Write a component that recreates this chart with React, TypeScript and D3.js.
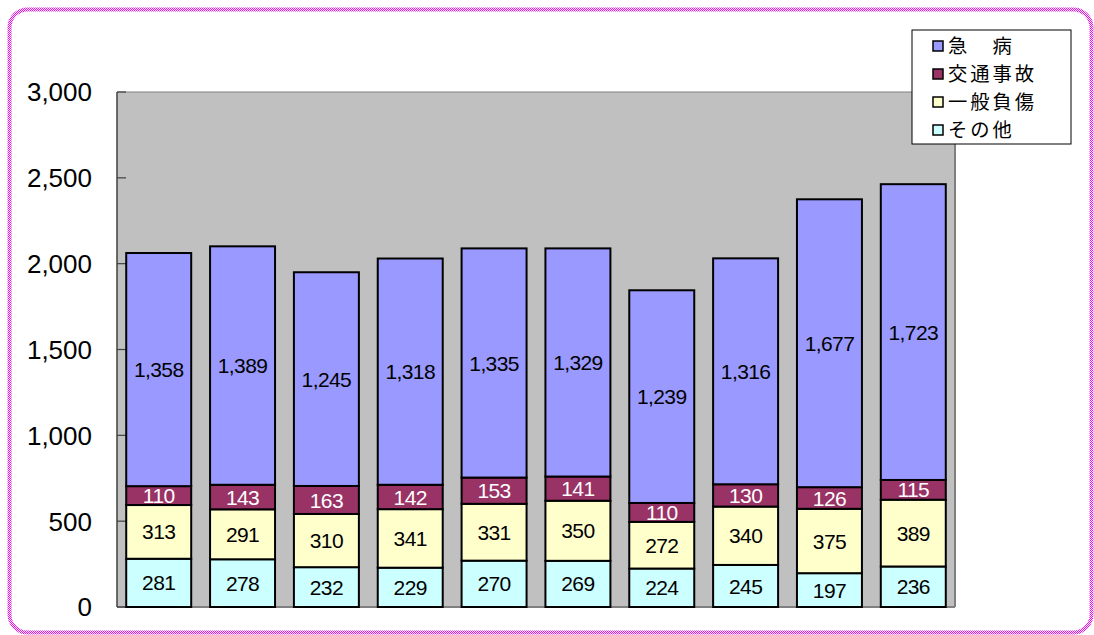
import * as d3 from "d3";

const categories = ["1", "2", "3", "4", "5", "6", "7", "8", "9", "10"];
const seriesNames = ["その他", "一般負傷", "交通事故", "急　病"];
const sonota = [281, 278, 232, 229, 270, 269, 224, 245, 197, 236];
const ippan = [313, 291, 310, 341, 331, 350, 272, 340, 375, 389];
const kotsu = [110, 143, 163, 142, 153, 141, 110, 130, 126, 115];
const kyubyo = [1358, 1389, 1245, 1318, 1335, 1329, 1239, 1316, 1677, 1723];
const yTicks = [0, 500, 1000, 1500, 2000, 2500, 3000];

const colors = ["#ccffff", "#ffffcc", "#993366", "#9999ff"];
const labelColors = ["#000", "#000", "#fff", "#000"];

const W = 1094;
const H = 635;
const plotLeft = 117;
const plotRight = 955;
const plotTop = 92;
const plotBottom = 607;

const numFont = "'Liberation Sans', Arial, sans-serif";
const narrowFont = "'Liberation Sans Narrow', 'Arial Narrow', 'Liberation Sans', sans-serif";
const jpFont = "'Noto Sans CJK JP', sans-serif";

const App = () => {
  const values = [sonota, ippan, kotsu, kyubyo];
  const rows = categories.map((c, i) => {
    const r: any = { cat: c };
    seriesNames.forEach((s, k) => (r[s] = values[k][i]));
    return r;
  });
  const stacked = d3.stack().keys(seriesNames)(rows);

  const x = d3
    .scaleBand()
    .domain(categories)
    .range([plotLeft, plotRight])
    .paddingInner(0.225)
    .paddingOuter(0.11);
  const y = d3.scaleLinear().domain([0, 3000]).range([plotBottom, plotTop]);
  const fmt = d3.format(",");

  const legendItems = [3, 2, 1, 0];

  return (
    <svg width={W} height={H} style={{ position: "absolute", left: 0, top: 0 }}>
      <defs>
        <pattern id="chk" width="2" height="2" patternUnits="userSpaceOnUse">
          <rect width="2" height="2" fill="#fff" />
          <rect width="1" height="1" fill="#ff00ff" />
          <rect x="1" y="1" width="1" height="1" fill="#ff00ff" />
        </pattern>
      </defs>
      <rect x={0} y={0} width={W} height={H} fill="#fff" />
      <rect
        x={9.5}
        y={9.5}
        width={1082}
        height={623}
        rx={18}
        fill="none"
        stroke="url(#chk)"
        strokeWidth={4}
      />
      {/* plot area */}
      <rect x={plotLeft} y={plotTop} width={plotRight - plotLeft} height={plotBottom - plotTop} fill="#c0c0c0" />
      <line x1={plotLeft} x2={plotRight} y1={plotTop} y2={plotTop} stroke="#808080" strokeWidth={1} />
      <line x1={plotRight} x2={plotRight} y1={plotTop} y2={plotBottom} stroke="#808080" strokeWidth={2} />
      <line x1={plotLeft} x2={plotRight} y1={plotBottom} y2={plotBottom} stroke="#808080" strokeWidth={2} />
      <line x1={plotLeft} x2={plotLeft} y1={plotTop} y2={plotBottom} stroke="#404040" strokeWidth={1.5} />
      {yTicks.map((t) => (
        <g key={t}>
          <line x1={plotLeft} x2={plotLeft + 9} y1={y(t)} y2={y(t)} stroke="#404040" strokeWidth={1.2} />
          <text
            x={92}
            y={y(t)}
            dy="0.36em"
            textAnchor="end"
            fontFamily={numFont}
            fontSize={26}
            fill="#000"
          >
            {fmt(t)}
          </text>
        </g>
      ))}
      {stacked.map((layer, k) => (
        <g key={layer.key}>
          {layer.map((d, i) => (
            <rect
              key={i}
              x={x(categories[i])}
              y={y(d[1])}
              width={x.bandwidth()}
              height={y(d[0]) - y(d[1])}
              fill={colors[k]}
              stroke="#000"
              strokeWidth={2}
            />
          ))}
          {layer.map((d, i) => (
            <text
              key={"t" + i}
              x={(x(categories[i]) as number) + x.bandwidth() / 2}
              y={(y(d[0]) + y(d[1])) / 2}
              dy="0.36em"
              textAnchor="middle"
              fontFamily={narrowFont}
              fontSize={21}
              letterSpacing={-0.6}
              fill={labelColors[k]}
            >
              {fmt(d[1] - d[0])}
            </text>
          ))}
        </g>
      ))}
      {/* legend */}
      <rect x={912} y={30} width={159} height={114} fill="#fff" stroke="#000" strokeWidth={1} />
      {legendItems.map((k, j) => {
        const cy = 46 + j * 28;
        return (
          <g key={k}>
            <rect x={933} y={cy - 5} width={10} height={10} fill={colors[k]} stroke="#000" strokeWidth={1.5} />
            <text
              x={948}
              y={cy}
              dy="0.36em"
              fontFamily={jpFont}
              fontSize={19.3}
              letterSpacing={3}
              fill="#000"
            >
              {seriesNames[k]}
            </text>
          </g>
        );
      })}
    </svg>
  );
};

export default App;
